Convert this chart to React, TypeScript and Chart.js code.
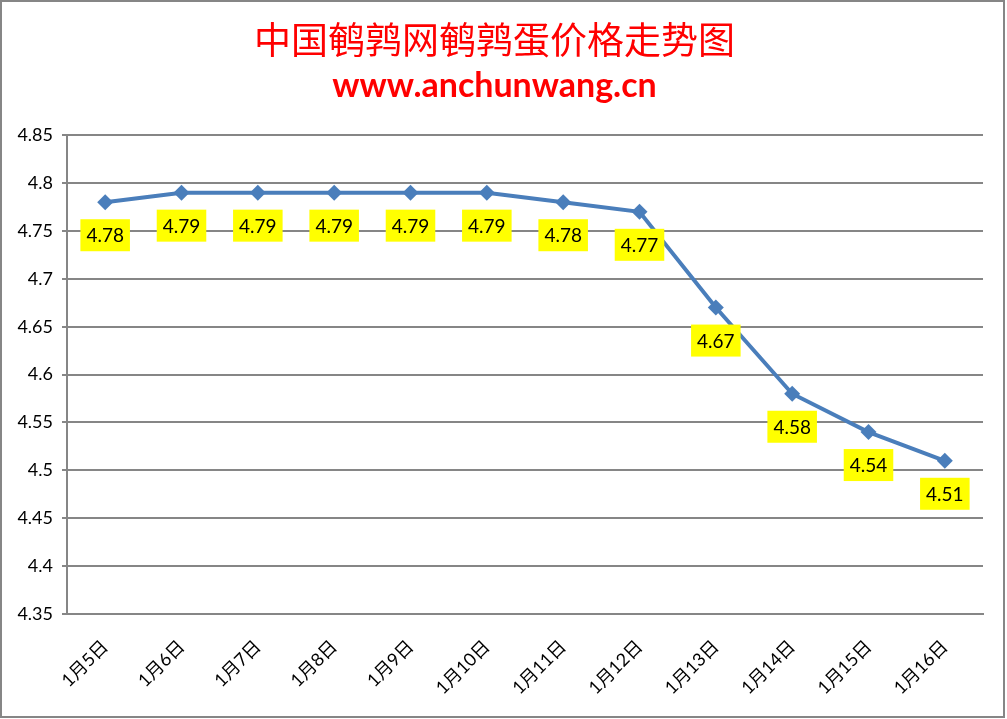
import { useEffect, useRef } from 'react'
import { Chart, registerables, Plugin } from 'chart.js'

Chart.register(...registerables)

const titleText = '中国鹌鹑网鹌鹑蛋价格走势图'
const subtitleText = 'www.anchunwang.cn'

const dates = [
  '1月5日', '1月6日', '1月7日', '1月8日', '1月9日', '1月10日',
  '1月11日', '1月12日', '1月13日', '1月14日', '1月15日', '1月16日',
]
const prices = [4.78, 4.79, 4.79, 4.79, 4.79, 4.79, 4.78, 4.77, 4.67, 4.58, 4.54, 4.51]

const yMin = 4.35
const yMax = 4.85
const yStep = 0.05

const FONT = 'Lato, "Noto Sans CJK SC", sans-serif'
const GRID = '#868686'
const LINE = '#4A7EBB'

// white background plus the thin grey frame round the whole picture
const framePlugin: Plugin = {
  id: 'frame',
  beforeDraw(chart) {
    const { ctx, width, height } = chart
    ctx.save()
    ctx.fillStyle = '#ffffff'
    ctx.fillRect(0, 0, width, height)
    ctx.strokeStyle = GRID
    ctx.lineWidth = 2
    ctx.strokeRect(1, 1, width - 4, height - 3)
    ctx.restore()
  },
}

// yellow value boxes under each point
const valueLabels: Plugin = {
  id: 'valueLabels',
  afterDatasetsDraw(chart) {
    const { ctx } = chart
    const meta = chart.getDatasetMeta(0)
    ctx.save()
    ctx.font = `19px ${FONT}`
    ctx.textAlign = 'center'
    ctx.textBaseline = 'middle'
    meta.data.forEach((pt, i) => {
      const text = prices[i].toFixed(2)
      const w = ctx.measureText(text).width + 12
      const h = 32
      const cx = pt.x
      const cy = pt.y + 33
      ctx.fillStyle = '#FFFF00'
      ctx.fillRect(cx - w / 2, cy - h / 2, w, h)
      ctx.fillStyle = '#000000'
      ctx.fillText(text, cx, cy + 1)
    })
    ctx.restore()
  },
}

export default function App() {
  const canvasRef = useRef<HTMLCanvasElement>(null)

  useEffect(() => {
    document.body.style.margin = '0'
    if (!canvasRef.current) return
    const chart = new Chart(canvasRef.current, {
      type: 'line',
      data: {
        labels: dates,
        datasets: [{
          data: prices,
          borderColor: LINE,
          backgroundColor: LINE,
          borderWidth: 4,
          pointStyle: 'rectRot',
          pointRadius: 8,
          pointBorderWidth: 0,
          pointBackgroundColor: LINE,
          tension: 0,
        }],
      },
      options: {
        animation: false,
        responsive: false,
        devicePixelRatio: 1,
        layout: { padding: { left: 6, right: 24, bottom: 0, top: 0 } },
        plugins: {
          legend: { display: false },
          tooltip: { enabled: false },
          title: {
            display: true,
            text: titleText,
            color: '#FF0000',
            font: { family: '"Noto Sans CJK SC", sans-serif', size: 37, weight: 'normal' },
            padding: { top: 18, bottom: 1 },
          },
          subtitle: {
            display: true,
            text: subtitleText,
            color: '#FF0000',
            font: { family: FONT, size: 34, weight: 'bold' },
            padding: { top: 2, bottom: 29 },
          },
        },
        scales: {
          x: {
            offset: true,
            grid: { display: false, drawTicks: false },
            border: { display: true, color: GRID, width: 2 },
            ticks: {
              color: '#000000',
              font: { family: FONT, size: 18 },
              maxRotation: 45,
              minRotation: 45,
              padding: 22,
              autoSkip: false,
            },
            afterFit(scale) { scale.height = 105 },
          },
          y: {
            min: yMin,
            max: yMax,
            grid: { color: GRID, lineWidth: 2, tickLength: 5, tickColor: GRID },
            border: { display: true, color: GRID, width: 2 },
            ticks: {
              stepSize: yStep,
              color: '#000000',
              font: { family: FONT, size: 18 },
              padding: 9,
              callback: (v) => String(Number(Number(v).toFixed(2))),
            },
            afterFit(scale) { scale.width = 61 },
          },
        },
      },
      plugins: [framePlugin, valueLabels],
    })
    return () => chart.destroy()
  }, [])

  return (
    <div style={{ width: 1007, height: 719 }}>
      <canvas ref={canvasRef} width={1007} height={719} />
    </div>
  )
}
